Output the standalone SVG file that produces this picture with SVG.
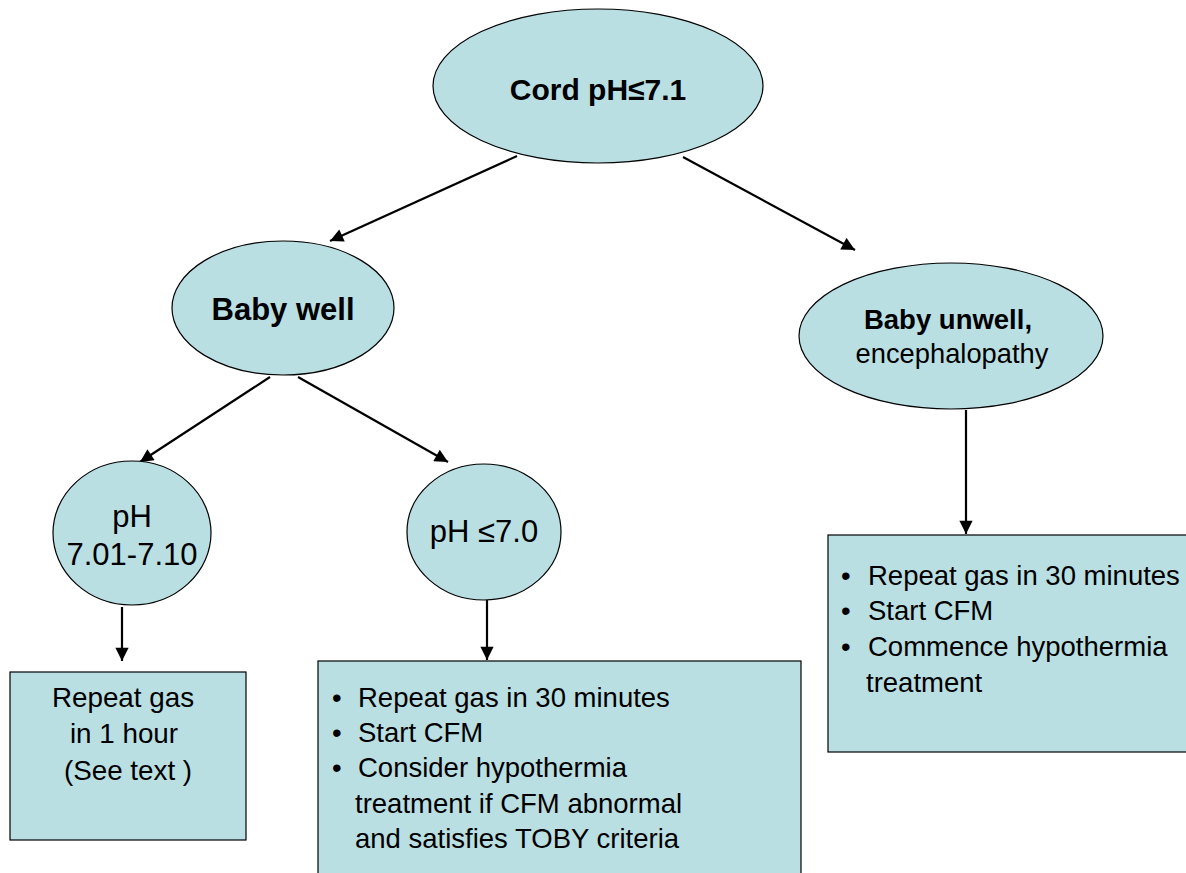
<svg xmlns="http://www.w3.org/2000/svg" width="1186" height="873" viewBox="0 0 1186 873">
<style>
.n{fill:#b9dfe3;stroke:#000;stroke-width:1.2}
.t{font-family:"Liberation Sans",Arial,sans-serif;fill:#000}
.b{font-weight:bold}
.c{stroke:#000;stroke-width:2.2;fill:none;marker-end:url(#ah)}
</style>
<defs>
<marker id="ah" viewBox="0 0 10 10" refX="10" refY="5" markerWidth="6.5" markerHeight="6" orient="auto" markerUnits="strokeWidth">
<path d="M0,0 L10,5 L0,10 z" fill="#000"/>
</marker>
</defs>
<rect width="1186" height="873" fill="#fff"/>
<g id="connectors">
<line class="c" x1="517" y1="156" x2="330" y2="241"/>
<line class="c" x1="683" y1="157" x2="855" y2="250"/>
<line class="c" x1="270" y1="377" x2="140" y2="462"/>
<line class="c" x1="298" y1="377" x2="448" y2="462"/>
<line class="c" x1="122" y1="607" x2="122" y2="661"/>
<line class="c" x1="487" y1="600" x2="487" y2="660"/>
<line class="c" x1="966" y1="410" x2="966" y2="534"/>
</g>
<g id="root">
<ellipse class="n" cx="598" cy="86" rx="165" ry="77"/>
<text class="t b" x="598" y="100" font-size="30" text-anchor="middle">Cord pH≤7.1</text>
</g>
<g id="well">
<ellipse class="n" cx="283" cy="308" rx="111" ry="67"/>
<text class="t b" x="283" y="320" font-size="31" text-anchor="middle">Baby well</text>
</g>
<g id="unwell">
<ellipse class="n" cx="951" cy="336" rx="152" ry="73"/>
<text class="t b" x="948" y="329" font-size="27.5" text-anchor="middle">Baby unwell,</text>
<text class="t" x="952" y="363" font-size="27.3" text-anchor="middle">encephalopathy</text>
</g>
<g id="ph1">
<ellipse class="n" cx="132" cy="533" rx="79" ry="72"/>
<text class="t" x="132" y="527" font-size="31" text-anchor="middle">pH</text>
<text class="t" x="132" y="565" font-size="31" text-anchor="middle">7.01-7.10</text>
</g>
<g id="ph2">
<ellipse class="n" cx="484" cy="532" rx="77" ry="68"/>
<text class="t" x="484" y="542" font-size="31" text-anchor="middle">pH ≤7.0</text>
</g>
<g id="box1">
<rect class="n" x="10" y="672" width="236" height="168"/>
<text class="t" x="123" y="707" font-size="27.8" text-anchor="middle">Repeat gas</text>
<text class="t" x="124" y="743" font-size="27.8" text-anchor="middle">in 1 hour</text>
<text class="t" x="128" y="780" font-size="27.8" text-anchor="middle">(See text )</text>
</g>
<g id="box2">
<rect class="n" x="318" y="661" width="483" height="230"/>
<text class="t" font-size="27.5">
<tspan x="332" y="707">•</tspan><tspan x="358" y="707">Repeat gas in 30 minutes</tspan>
<tspan x="332" y="742">•</tspan><tspan x="358" y="742">Start CFM</tspan>
<tspan x="332" y="777">•</tspan><tspan x="358" y="777">Consider hypothermia</tspan>
<tspan x="355" y="813">treatment if CFM abnormal</tspan>
<tspan x="355" y="848">and satisfies TOBY criteria</tspan>
</text>
</g>
<g id="box3">
<rect class="n" x="828" y="535" width="370" height="217"/>
<text class="t" font-size="27.5">
<tspan x="841" y="585">•</tspan><tspan x="868" y="585">Repeat gas in 30 minutes</tspan>
<tspan x="841" y="620">•</tspan><tspan x="868" y="620">Start CFM</tspan>
<tspan x="841" y="656">•</tspan><tspan x="868" y="656">Commence hypothermia</tspan>
<tspan x="866" y="692">treatment</tspan>
</text>
</g>
</svg>
